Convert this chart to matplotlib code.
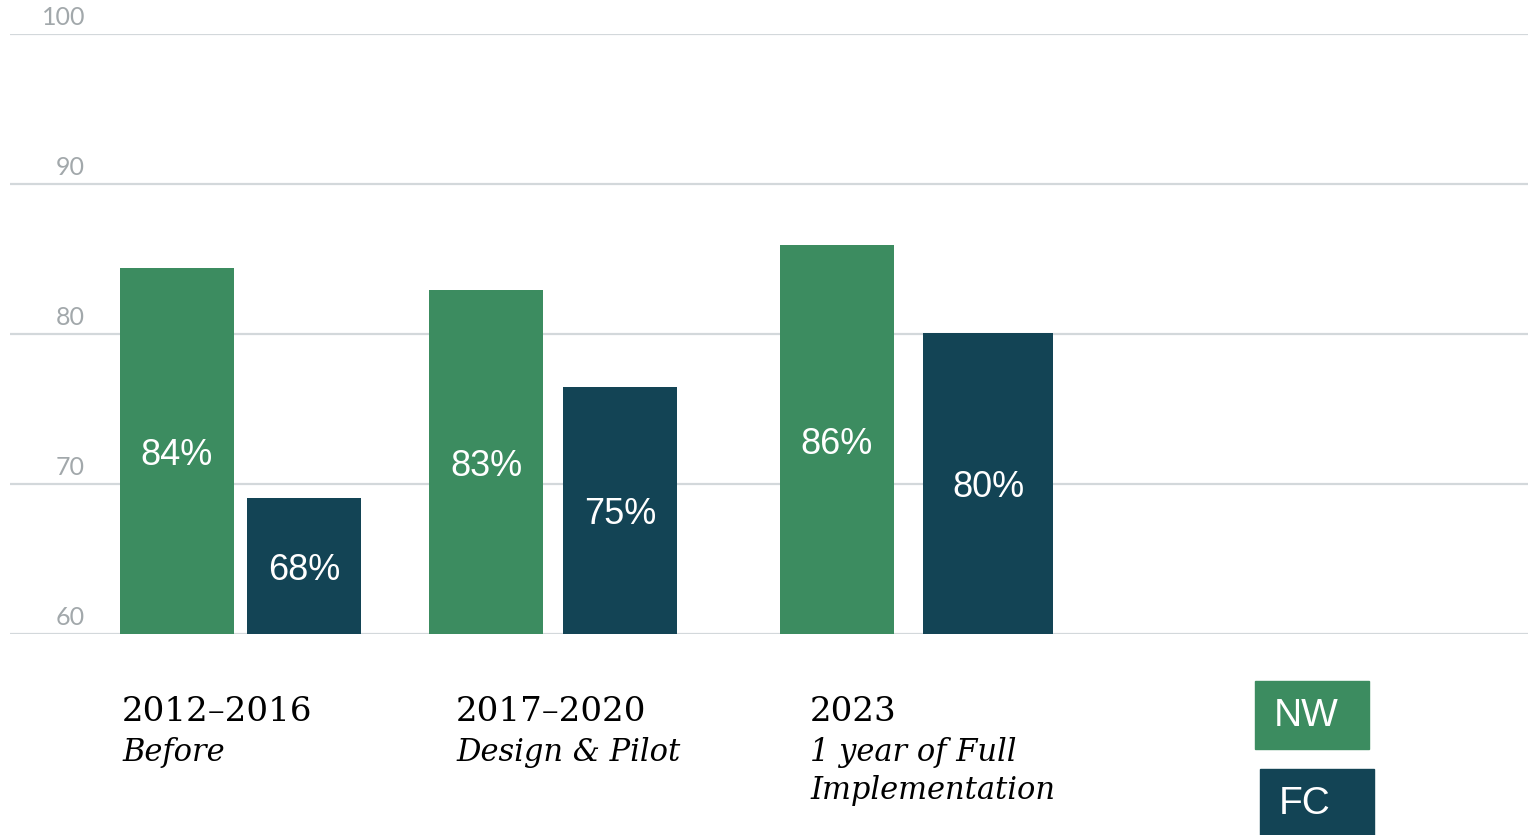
import matplotlib.pyplot as plt
from matplotlib.patches import Rectangle
from matplotlib import font_manager

# data
periods = ["2012–2016", "2017–2020", "2023"]
period_notes = ["Before", "Design & Pilot", "1 year of Full\nImplementation"]
nw_values = [84.4, 82.9, 85.9]
fc_values = [69.1, 76.5, 80.1]
nw_labels = ["84%", "83%", "86%"]
fc_labels = ["68%", "75%", "80%"]
y_ticks = [60, 70, 80, 90, 100]

GREEN = "#3c8c60"
NAVY = "#134455"
W, H = 1528, 835

# layout (x in units of 100 px, starting at the left end of the gridlines)
nw_x = [1.67, 4.76, 8.27]
fc_x = [2.94, 6.10, 9.78]
bar_w = [1.14, 1.14, 1.14]
fc_w = [1.14, 1.14, 1.30]
label_left = [122, 456, 810]

tick_family = "Lato"
names = {f.name for f in font_manager.fontManager.ttflist}
if tick_family not in names:
    tick_family = "DejaVu Sans"

fig = plt.figure(figsize=(W / 100, H / 100), dpi=100)
ax = fig.add_axes([10 / W, (H - 634) / H, (W - 10) / W, 600 / H])
ax.set_xlim(0, (W - 10) / 100)
ax.set_ylim(60, 100)

for v in y_ticks:
    ax.axhline(v, color="#d3d8db", lw=1.6, zorder=0)
    ax.text(0.75, v + 0.35, str(v), ha="right", va="bottom", fontsize=18,
            color="#a2a8ab", family=tick_family)

ax.bar(nw_x, [v - 60 for v in nw_values], bottom=60, width=bar_w, color=GREEN, zorder=2)
ax.bar(fc_x, [v - 60 for v in fc_values], bottom=60, width=fc_w, color=NAVY, zorder=2)

for x, v, lab in zip(nw_x, nw_values, nw_labels):
    ax.text(x, (60 + v) / 2 - 0.3, lab, ha="center", va="center", color="white",
            fontsize=26, family="Liberation Sans", zorder=3)
for x, v, lab in zip(fc_x, fc_values, fc_labels):
    ax.text(x, (60 + v) / 2 - 0.3, lab, ha="center", va="center", color="white",
            fontsize=26, family="Liberation Sans", zorder=3)

ax.set_xticks([])
ax.set_yticks([])
for s in ax.spines.values():
    s.set_visible(False)

# category labels under the bars
for x, p, note in zip(label_left, periods, period_notes):
    fig.text(x / W, 1 - 721 / H, p, ha="left", va="baseline", fontsize=24.5,
             family="DejaVu Serif", color="black")
    fig.text(x / W, 1 - 737 / H, note, ha="left", va="top", fontsize=22,
             family="DejaVu Serif", style="italic", color="black",
             linespacing=1.3)

# legend boxes
fig.add_artist(Rectangle((1255 / W, 1 - 749 / H), 114 / W, 68 / H,
                         transform=fig.transFigure, color=GREEN))
fig.text(1274 / W, 1 - 716 / H, "NW", ha="left", va="center", color="white",
         fontsize=28, family="Liberation Sans")
fig.add_artist(Rectangle((1260 / W, 0), 114 / W, 66 / H,
                         transform=fig.transFigure, color=NAVY))
fig.text(1279 / W, 1 - 804 / H, "FC", ha="left", va="center", color="white",
         fontsize=28, family="Liberation Sans")

fig.savefig("out.png", dpi=100)
